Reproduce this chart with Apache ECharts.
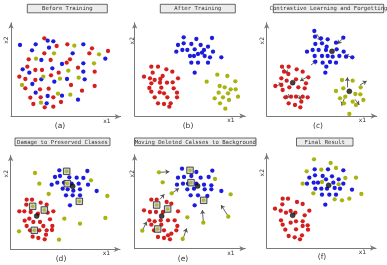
<!DOCTYPE html>
<html><head><meta charset="utf-8">
<script src="https://cdn.jsdelivr.net/npm/echarts@6/dist/echarts.min.js"></script>
<style>html,body{margin:0;padding:0;background:#fff}#c{width:387px;height:265px}</style>
</head><body><div id="c"></div>
<script>
// Feature values (x1, x2); x2 grows downward in the reading units.
const titles = ['Before Training','After Training','Contrastive Learning and Forgetting','Damage to Preserved Classes','Moving Deleted Calsses to Background','Final Result'];
const tags = ['(a)','(b)','(c)','(d)','(e)','(f)'];

const aRed = [[133,115],[170,138],[202,133],[276,145],[268,160],[324,153],[133,160],[86,178],[152,180],[210,178],[200,188],[82,200],[106,210],[126,210],[234,203],[176,218],[284,215],[58,230],[76,237],[153,226],[106,240],[76,265],[213,255],[284,258],[120,268],[146,266],[246,272],[91,293],[122,292],[160,292],[100,312],[183,306],[134,322],[160,320]];
const aBlue = [[143,122],[160,124],[60,135],[107,133],[250,133],[147,143],[96,151],[218,160],[316,176],[124,180],[186,192],[250,190],[157,205],[68,208],[88,218],[250,215],[124,238],[201,237],[254,238],[163,245],[97,252],[107,278],[186,287],[143,288],[234,299],[140,310]];
const aYellow = [[223,137],[297,163],[162,160],[108,176],[282,190],[205,212],[130,230],[180,236],[236,233],[66,255],[174,281],[211,284],[123,308]];

const bBlue = [[167,112],[205,117],[252,114],[150,135],[167,130],[190,132],[218,135],[240,140],[145,155],[163,150],[178,150],[200,148],[228,150],[255,155],[186,168],[198,168],[210,162],[222,158],[230,168],[246,172],[280,172],[190,188],[210,188],[240,188],[200,218]];
const bRed = [[70,200],[90,200],[74,218],[115,208],[133,215],[48,230],[66,235],[80,240],[97,237],[104,228],[150,235],[70,250],[96,248],[117,248],[134,247],[64,264],[70,275],[100,263],[137,265],[95,277],[108,280],[147,278],[80,292],[118,292],[147,292],[90,310],[108,312],[128,310],[124,320]];
const bYellow = [[268,224],[298,228],[236,245],[322,244],[275,258],[290,262],[308,268],[323,268],[272,278],[300,280],[260,295],[285,292],[330,290],[303,300],[276,310],[292,326]];

const cBlue = [[175,93],[177,110],[195,115],[215,118],[178,132],[198,130],[212,140],[240,128],[262,113],[153,155],[170,150],[188,150],[210,150],[242,148],[263,155],[176,168],[198,168],[215,168],[230,170],[250,168],[270,170],[289,172],[178,185],[200,188],[222,186],[240,188],[211,200],[208,218]];
const cRed = [[78,200],[98,200],[84,215],[97,222],[122,208],[140,215],[76,235],[92,242],[120,238],[157,232],[58,258],[76,255],[80,270],[100,262],[127,262],[146,265],[150,250],[88,292],[105,290],[120,290],[140,290],[155,292],[98,310],[117,315],[133,322],[136,305]];
const cYellow = [[258,240],[290,242],[240,273],[262,265],[314,262],[252,295],[268,290],[298,282],[313,283],[264,310],[290,305],[300,315],[322,300],[280,342]];
const cCenters = [[228,154],[110,248],[280,274]];
const cArrows = [[[182,102],[195,122]],[[262,113],[245,132]],[[165,195],[182,182]],[[287,172],[267,165]],[[274,262],[274,232]],[[312,255],[332,243]],[[265,295],[257,317]],[[297,298],[310,315]],[[82,205],[96,222]],[[60,258],[80,250]],[[155,230],[132,243]],[[128,285],[135,300]],[[98,282],[92,297]]];

const dBlue = [[178,115],[262,117],[165,135],[180,132],[208,136],[230,137],[250,138],[155,158],[172,152],[192,152],[215,155],[236,155],[264,158],[188,170],[203,172],[220,176],[240,172],[290,177],[198,190],[218,190],[240,190],[210,220]];
const dRed = [[80,203],[96,203],[79,218],[122,212],[140,218],[58,238],[73,238],[92,240],[114,245],[143,242],[160,238],[88,260],[74,266],[100,270],[120,270],[150,262],[80,282],[130,282],[157,282],[90,295],[118,295],[140,295],[156,294],[98,314],[115,318],[134,322],[138,308]];
const dYellow = [[105,123],[118,155],[273,145],[146,186],[322,192],[193,260],[240,275],[316,258],[57,298],[177,323]];
const dBoxed = [[200,118],[202,155],[238,208],[98,223],[133,234],[103,295]];
const dCenters = [[218,163],[110,252]];

const eBlue = [[162,110],[205,120],[253,116],[150,137],[168,135],[190,132],[218,137],[242,135],[147,158],[165,155],[180,155],[205,155],[228,158],[250,160],[178,172],[198,170],[230,172],[250,172],[280,177],[188,190],[210,190],[238,192],[200,220]];
const eRed = [[70,203],[86,203],[116,210],[130,215],[48,235],[66,240],[84,240],[105,240],[150,238],[64,265],[80,268],[98,265],[120,265],[140,265],[70,278],[100,278],[148,282],[78,295],[108,295],[145,295],[90,315],[108,318],[126,322],[130,305],[120,310]];
const eYellow = [[93,121],[104,151],[261,141],[131,184],[308,187],[178,256],[226,272],[301,254],[43,296],[164,321]];
const eBoxed = [[186,115],[189,152],[227,205],[86,219],[119,231],[89,291]];
const eCenters = [[209,162],[101,252]];
const eArrows = [[[97,121],[124,119]],[[134,182],[153,169]],[[96,202],[109,187]],[[45,292],[56,269]],[[166,318],[176,289]],[[226,268],[223,234]],[[299,250],[279,219]]];

const fBlue = [[176,112],[216,112],[262,115],[160,137],[177,130],[200,132],[228,133],[248,142],[153,155],[173,152],[186,152],[210,142],[232,152],[262,155],[178,170],[196,170],[213,170],[236,168],[252,170],[288,173],[198,188],[220,188],[240,188],[208,218]];
const fRed = [[80,200],[96,200],[79,217],[123,210],[140,216],[57,230],[74,236],[90,242],[104,237],[118,242],[160,236],[146,250],[75,265],[104,272],[120,268],[140,268],[80,278],[155,280],[140,282],[88,293],[120,292],[156,293],[98,312],[116,316],[132,322],[138,310]];
const fYellow = [[174,82],[224,93],[240,108],[196,113],[152,118],[268,138],[300,137],[140,155],[198,150],[248,157],[172,184],[316,186],[236,202],[258,205],[280,200]];
const fCenters = [[218,160],[110,250]];

// ---- layout (pixels) ----
const panels = [
  {ox:0,  oy:0,   ax:33, top:68, bot:350, end:362, box:[27.3,4.3,80,8.5],   tag:[60,126],  x1:[107,121.5], x2:[6.7,40]},
  {ox:128,oy:0,   ax:20, top:68, bot:348, end:352, box:[160.3,4.3,75,8.6],  tag:[188,126], x1:[231,120.5], x2:[132,40.7]},
  {ox:256,oy:0,   ax:32, top:68, bot:348, end:362, box:[273.3,4.3,110.4,8.4],tag:[318,126], x1:[362.5,120], x2:[262.7,40.7]},
  {ox:0,  oy:132, ax:32, top:70, bot:352, end:360, box:[15,138,95,7.7],     tag:[61,258.7],x1:[106.5,253.5], x2:[6.7,173.7]},
  {ox:128,oy:132, ax:20, top:68, bot:350, end:352, box:[134.5,138,121.5,7.7],tag:[183,258.7],x1:[231,253.5], x2:[132,173.7]},
  {ox:256,oy:132, ax:32, top:65, bot:348, end:360, box:[296.5,138,56.5,8],  tag:[322,257], x1:[362.5,252.5], x2:[262,172.7]}
];
const RED='#d41f1f', BLUE='#1c1ce0', YEL='#a8b30d', AXC='#7a7a7a';

const grids=[], xAxes=[], yAxes=[], series=[], graphic=[];
const flip = pts => pts.map(p=>[p[0],-p[1]]);
panels.forEach((p,i)=>{
  grids.push({left:p.ox+p.ax/3, top:p.oy+p.top/3, width:(p.end-p.ax)/3, height:(p.bot-p.top)/3});
  const axl = {show:true, symbol:['none','arrow'], symbolSize:[4,6], lineStyle:{color:AXC,width:1}};
  xAxes.push({gridIndex:i,type:'value',min:p.ax,max:p.end,axisLine:axl,axisTick:{show:false},axisLabel:{show:false},splitLine:{show:false}});
  yAxes.push({gridIndex:i,type:'value',min:-p.bot,max:-p.top,axisLine:axl,axisTick:{show:false},axisLabel:{show:false},splitLine:{show:false}});
  const b=p.box;
  graphic.push({type:'rect',shape:{x:b[0],y:b[1],width:b[2],height:b[3]},style:{fill:'#ececec',stroke:'#444',lineWidth:0.8}});
  graphic.push({type:'text',x:b[0]+b[2]/2,y:b[1]+b[3]/2+0.3,style:{text:titles[i],fill:'#333',font:'5.6px "DejaVu Sans Mono"',textAlign:'center',textVerticalAlign:'middle'}});
  graphic.push({type:'text',x:p.tag[0],y:p.tag[1],style:{text:tags[i],fill:'#333',font:'7.5px "DejaVu Sans"',textAlign:'center',textVerticalAlign:'middle'}});
  graphic.push({type:'text',x:p.x1[0],y:p.x1[1],style:{text:'x1',fill:'#333',font:'6px "DejaVu Sans"',textAlign:'center',textVerticalAlign:'middle'}});
  graphic.push({type:'text',x:p.x2[0],y:p.x2[1],rotation:Math.PI/2,style:{text:'x2',fill:'#333',font:'6px "DejaVu Sans"',textAlign:'center',textVerticalAlign:'middle'}});
});
function dots(i,pts,color,size){series.push({type:'scatter',xAxisIndex:i,yAxisIndex:i,data:flip(pts),symbolSize:size||4.3,itemStyle:{color:color,opacity:1},silent:true,z:3});}
function boxes(i,pts){
  series.push({type:'scatter',xAxisIndex:i,yAxisIndex:i,data:flip(pts),symbol:'rect',symbolSize:6.5,itemStyle:{color:'#c6c6c6',borderColor:'#222',borderWidth:1},silent:true,z:4});
  series.push({type:'scatter',xAxisIndex:i,yAxisIndex:i,data:flip(pts),symbolSize:3.6,itemStyle:{color:YEL},silent:true,z:5});
}
function centers(i,pts){series.push({type:'scatter',xAxisIndex:i,yAxisIndex:i,data:flip(pts),symbolSize:5,itemStyle:{color:'#111',borderColor:'#000',borderWidth:0.5},silent:true,z:6});}
function arrows(i,list){series.push({type:'lines',coordinateSystem:'cartesian2d',xAxisIndex:i,yAxisIndex:i,symbol:['none','arrow'],symbolSize:4,lineStyle:{color:'#555',width:0.9,opacity:1},data:list.map(a=>({coords:flip(a)})),silent:true,z:2});}

dots(0,aRed,RED); dots(0,aBlue,BLUE); dots(0,aYellow,YEL);
dots(1,bBlue,BLUE); dots(1,bRed,RED); dots(1,bYellow,YEL);
arrows(2,cArrows); dots(2,cBlue,BLUE); dots(2,cRed,RED); dots(2,cYellow,YEL); centers(2,cCenters);
dots(3,dBlue,BLUE); dots(3,dRed,RED); dots(3,dYellow,YEL); boxes(3,dBoxed); centers(3,dCenters);
arrows(4,eArrows); dots(4,eBlue,BLUE); dots(4,eRed,RED); dots(4,eYellow,YEL); boxes(4,eBoxed); centers(4,eCenters);
dots(5,fBlue,BLUE); dots(5,fRed,RED); dots(5,fYellow,YEL); centers(5,fCenters);

const chart = echarts.init(document.getElementById('c'),null,{renderer:'canvas'});
chart.setOption({animation:false,backgroundColor:'#fff',grid:grids,xAxis:xAxes,yAxis:yAxes,series:series,graphic:graphic});
</script></body></html>
